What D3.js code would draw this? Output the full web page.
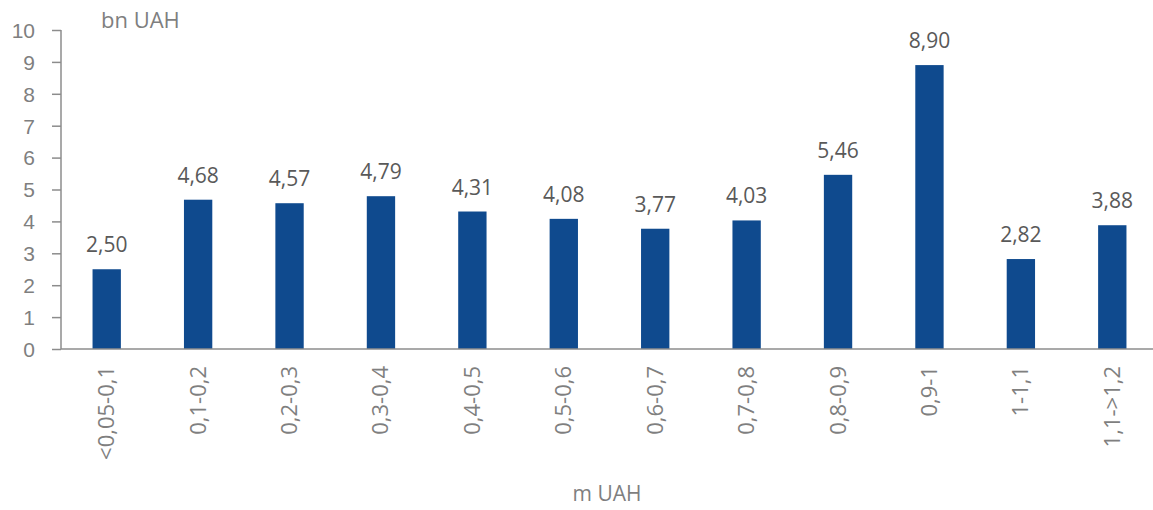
<!DOCTYPE html>
<html>
<head>
<meta charset="utf-8">
<script src="https://cdn.jsdelivr.net/npm/d3@7"></script>
<style>
  body { margin: 0; background: #fff; }
  svg { display: block; font-family: "Open Sans", "Liberation Sans", sans-serif; }
</style>
</head>
<body>
<svg id="chart"></svg>
<script>
const categories = ["<0,05-0,1", "0,1-0,2", "0,2-0,3", "0,3-0,4", "0,4-0,5", "0,5-0,6",
                    "0,6-0,7", "0,7-0,8", "0,8-0,9", "0,9-1", "1-1,1", "1,1->1,2"];
const values = [2.50, 4.68, 4.57, 4.79, 4.31, 4.08, 3.77, 4.03, 5.46, 8.90, 2.82, 3.88];
const yTicks = [0, 1, 2, 3, 4, 5, 6, 7, 8, 9, 10];

const width = 1153, height = 510;
const svg = d3.select("#chart").attr("width", width).attr("height", height);

const x = d3.scaleBand().domain(categories).range([61, 1158]).paddingInner(0.69).paddingOuter(0.345);
const y = d3.scaleLinear().domain([0, 10]).range([349, 30]);

const fmt = v => v.toFixed(2).replace(".", ",");

// y axis
const yAxis = svg.append("g").attr("transform", "translate(61,0)")
  .call(d3.axisLeft(y).tickValues(yTicks).tickSize(9).tickPadding(17));
yAxis.select(".domain").attr("stroke", "#8c8c8c").attr("stroke-width", 1.5).attr("d", `M0,${y(10)}V${y(0)}`);
yAxis.selectAll(".tick line").attr("stroke", "#8c8c8c").attr("stroke-width", 1.5);
yAxis.selectAll(".tick text").attr("fill", "#7f7f7f").style("font-size", "21px").attr("dy", "0.35em");

// bars
svg.append("g").selectAll("rect").data(values).join("rect")
  .attr("x", (d, i) => x(categories[i]))
  .attr("width", x.bandwidth())
  .attr("y", d => y(d))
  .attr("height", d => y(0) - y(d))
  .attr("fill", "#0f4a8e");

// value labels
svg.append("g").selectAll("text").data(values).join("text")
  .attr("x", (d, i) => x(categories[i]) + x.bandwidth() / 2)
  .attr("y", d => y(d) - 17)
  .attr("text-anchor", "middle")
  .attr("fill", "#595959")
  .style("font-size", "21px")
  .text(d => fmt(d));

// x axis line
svg.append("line").attr("x1", 61).attr("x2", width).attr("y1", y(0)).attr("y2", y(0))
  .attr("stroke", "#8c8c8c").attr("stroke-width", 1.5);

// category labels, rotated
svg.append("g").selectAll("text").data(categories).join("text")
  .attr("transform", d => `translate(${x(d) + x.bandwidth() / 2 + 7.5},366) rotate(-90)`)
  .attr("text-anchor", "end")
  .attr("fill", "#7f7f7f")
  .style("font-size", "22px")
  .text(d => d);

// unit labels
svg.append("text").attr("x", 101).attr("y", 28).attr("fill", "#7f7f7f")
  .style("font-size", "22px").text("bn UAH");
svg.append("text").attr("x", 607).attr("y", 501).attr("text-anchor", "middle").attr("fill", "#7f7f7f")
  .style("font-size", "21px").text("m UAH");
</script>
</body>
</html>
